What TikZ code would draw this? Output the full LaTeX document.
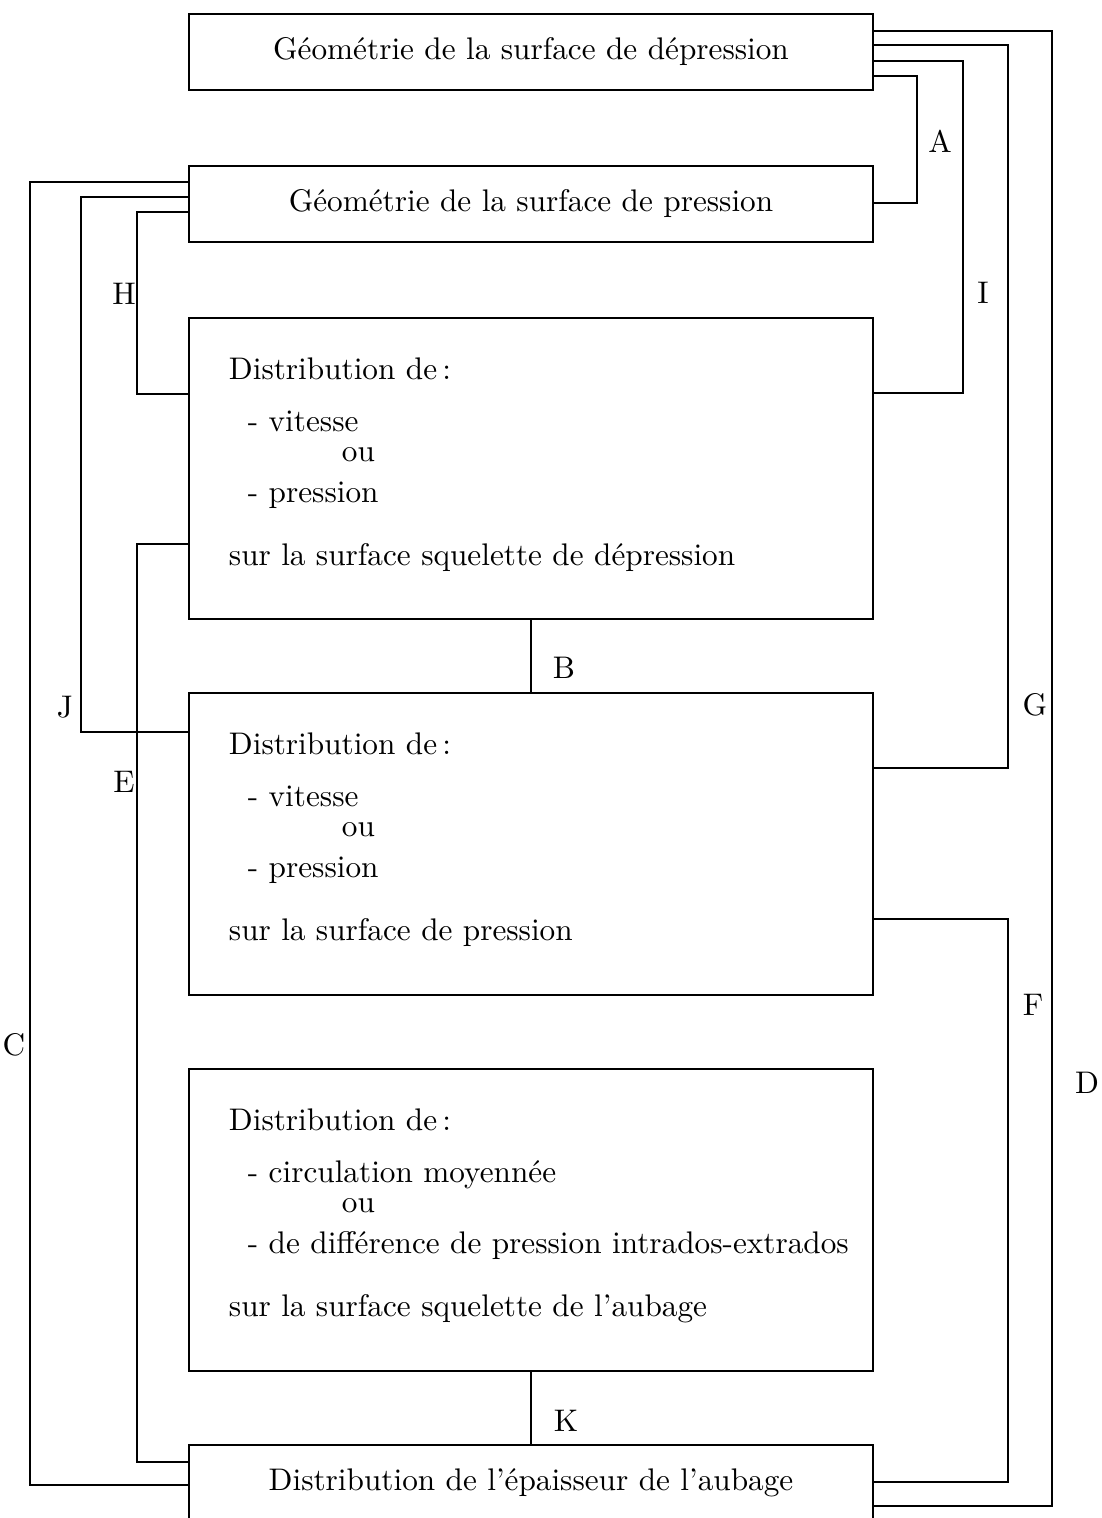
\documentclass[tikz,border=0pt]{standalone}
\begin{document}
\begin{tikzpicture}[x=0.32pt,y=-0.32pt,line width=0.6pt,
  bloc/.style={draw,rectangle,inner sep=0pt,minimum width=684*0.32pt},
  ligne/.style={anchor=base west,inner sep=0pt}]
\useasboundingbox (0,0) rectangle (1102,1518);
% les boites
\node[bloc,minimum height=76*0.32pt] (geodep) at (531,52) {Géométrie de la surface de dépression};
\node[bloc,minimum height=76*0.32pt] (geopres) at (531,204) {Géométrie de la surface de pression};
\node[bloc,minimum height=301*0.32pt] (distdep) at (531,468.5) {};
\node[bloc,minimum height=302*0.32pt] (distpres) at (531,844) {};
\node[bloc,minimum height=302*0.32pt] (distcirc) at (531,1220) {};
\node[bloc,minimum height=76*0.32pt] (epais) at (531,1483) {Distribution de l'épaisseur de l'aubage};
% textes des boites
\foreach \dy/\x/\txt [count=\i] in {61/228/{Distribution de\,:}, 113/247/{- vitesse}, 143/341/ou, 184/247/{- pression}, 247/228/{sur la surface squelette de dépression}}
  \node[ligne] (dep\i) at (\x,318+\dy) {\txt};
\foreach \dy/\x/\txt [count=\i] in {61/228/{Distribution de\,:}, 113/247/{- vitesse}, 143/341/ou, 184/247/{- pression}, 247/228/{sur la surface de pression}}
  \node[ligne] (pres\i) at (\x,693+\dy) {\txt};
\foreach \dy/\x/\txt [count=\i] in {61/228/{Distribution de\,:}, 113/247/{- circulation moyennée}, 143/341/ou, 184/247/{- de différence de pression intrados-extrados}, 247/228/{sur la surface squelette de l'aubage}}
  \node[ligne] (circ\i) at (\x,1069+\dy) {\txt};
% liaisons a droite
\foreach \de/\ya/\xm/\vers/\yb in {geodep/31/1052/epais/1506, geodep/45/1008/distpres/768, geodep/61/963/distdep/393, geodep/76/917/geopres/203, distpres/919/1008/epais/1482}
  \draw (\de.east |- 0,\ya) -| (\xm,\yb) -- (\vers.east |- 0,\yb);
% liaisons a gauche
\foreach \de/\ya/\xm/\vers/\yb in {geopres/182/30/epais/1485, geopres/197/81/distpres/732, geopres/212/137/distdep/394, distdep/544/137/epais/1462}
  \draw (\de.west |- 0,\ya) -| (\xm,\yb) -- (\vers.west |- 0,\yb);
\draw (distdep) -- (distpres);
\draw (distcirc) -- (epais);
% lettres
\foreach \lab/\x/\y in {A/940/141, I/983/293, G/1035/705, D/1087/1083, F/1033/1005, C/14/1045, J/65/707, H/124/294, E/124/782, B/564/668, K/566/1421}
  \node (lab\lab) at (\x,\y) {\lab};
\end{tikzpicture}
\end{document}
